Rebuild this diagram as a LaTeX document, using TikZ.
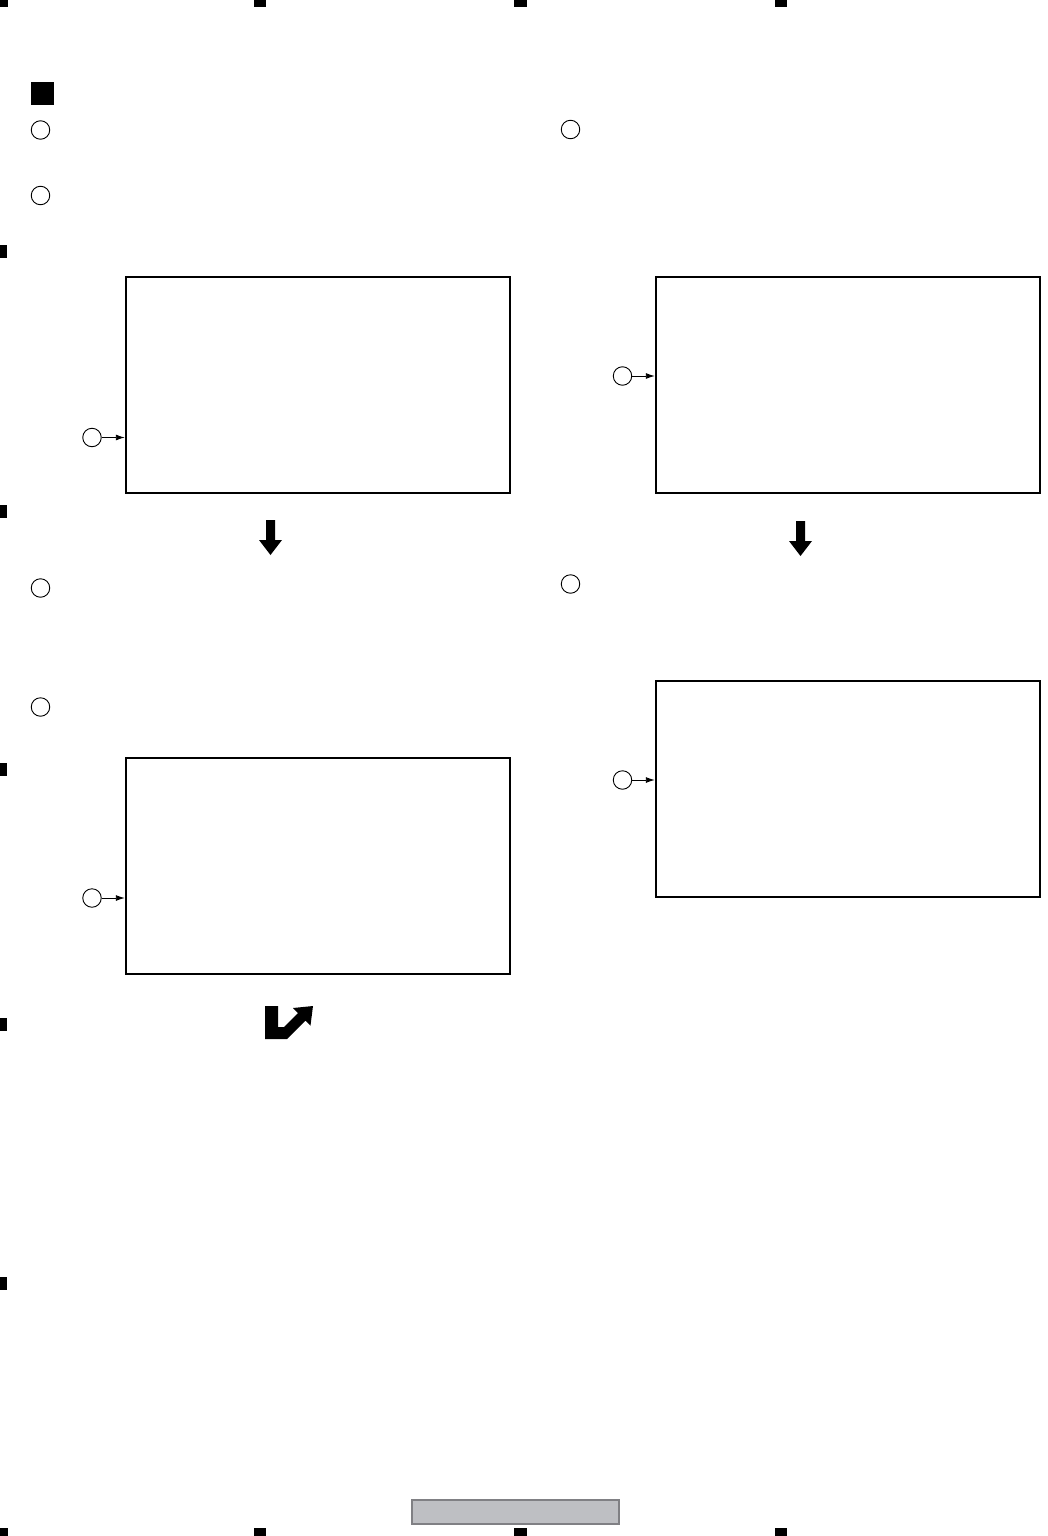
\documentclass[tikz,border=0pt]{standalone}
\usetikzlibrary{arrows.meta}
\definecolor{barfill}{RGB}{190,191,195}
\definecolor{barline}{RGB}{128,128,132}
\tikzset{
  panel/.style={draw=black, line width=2.4pt, rectangle, inner sep=0pt, minimum width=384pt, minimum height=216pt},
  regmark/.style={fill=black},
  circ/.style={draw=black, line width=0.9pt, circle, inner sep=0pt, minimum size=18.5pt},
  pointer/.style={line width=0.9pt, -{Latex[length=9pt,width=6pt]}},
  bigarrow/.style={fill=black}
}
\begin{document}
\begin{tikzpicture}[x=1pt,y=-1pt]
\useasboundingbox (0,0) rectangle (1047,1536);
% register marks top
\fill[regmark] (0,0) rectangle (8,7);
\fill[regmark] (254,0) rectangle (266,7);
\fill[regmark] (514,0) rectangle (527,7);
\fill[regmark] (775,0) rectangle (787,7);
% register marks left
\fill[regmark] (0,245) rectangle (7,258);
\fill[regmark] (0,505) rectangle (7,518);
\fill[regmark] (0,763) rectangle (7,776);
\fill[regmark] (0,1018) rectangle (7,1031);
\fill[regmark] (0,1277) rectangle (7,1290);
% register marks bottom
\fill[regmark] (0,1528) rectangle (8,1536);
\fill[regmark] (254,1528) rectangle (266,1536);
\fill[regmark] (514,1528) rectangle (527,1536);
\fill[regmark] (775,1528) rectangle (787,1536);
% heading square
\node[fill=black, inner sep=0pt, minimum size=23pt] (sq) at (42.5,93.5) {};
% step circles
\node[circ] (s1) at (40.5,130) {};
\node[circ] (s2) at (40.5,195.5) {};
\node[circ] (s3) at (570.5,129.5) {};
\node[circ] (s4) at (40.5,588) {};
\node[circ] (s5) at (40.5,707) {};
\node[circ] (s6) at (570.5,584) {};
% panels
\node[panel] (b1) at (318,385) {};
\node[panel] (b2) at (848,385) {};
\node[panel] (b3) at (318,866) {};
\node[panel] (b4) at (848,789) {};
% pointer circles
\node[circ] (p1) at (92,437.5) {};
\node[circ] (p2) at (622.5,376) {};
\node[circ] (p3) at (92,898) {};
\node[circ] (p4) at (622.5,780) {};
\draw[pointer] (p1) -- (p1 -| b1.west);
\draw[pointer] (p2) -- (p2 -| b2.west);
\draw[pointer] (p3) -- (p3 -| b3.west);
\draw[pointer] (p4) -- (p4 -| b4.west);
% down arrows
\fill[bigarrow] (266,520) -- (275,520) -- (275,540) -- (282,540) -- (270.5,555) -- (259,540) -- (266,540) -- cycle;
\fill[bigarrow] (796,521) -- (805,521) -- (805,541) -- (812,541) -- (800.5,556) -- (789,541) -- (796,541) -- cycle;
% bent arrow
\fill[bigarrow] (265,1006) -- (278,1006) -- (278,1027) -- (284,1027) -- (298,1013) -- (293,1008) -- (313,1006) -- (310.5,1025.5) -- (305.5,1020.5) -- (287,1039) -- (265,1039) -- cycle;
% bottom bar
\node[draw=barline, fill=barfill, line width=1.3pt, inner sep=0pt, minimum width=207pt, minimum height=24pt] (bar) at (515.5,1512) {};
\end{tikzpicture}
\end{document}
